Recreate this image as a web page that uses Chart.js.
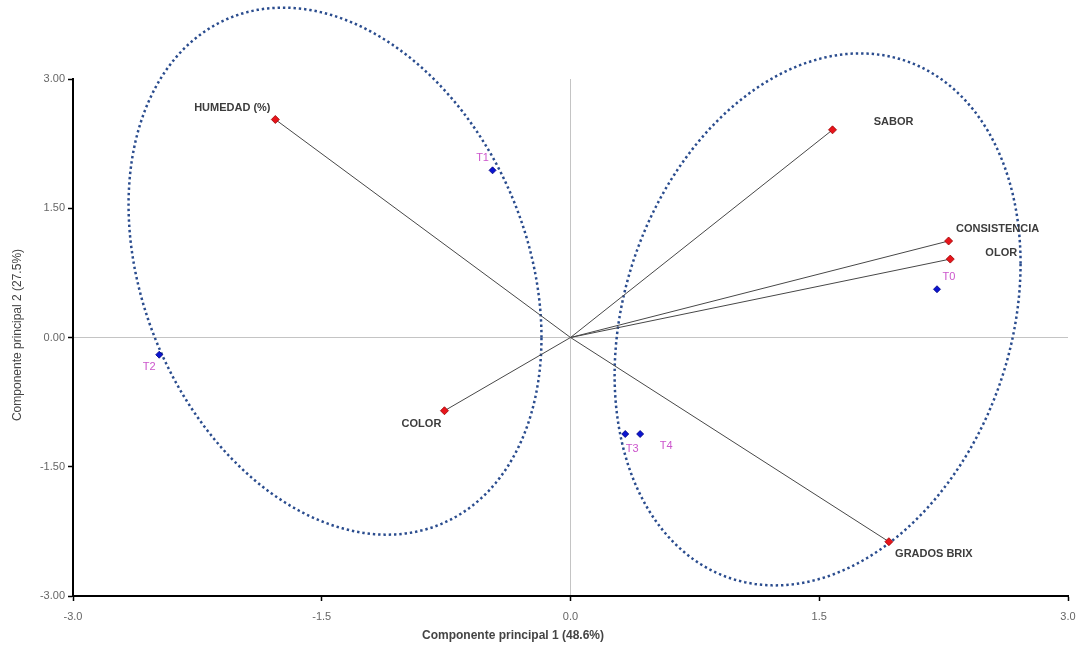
<!DOCTYPE html>
<html>
<head>
<meta charset="utf-8">
<script src="https://cdn.jsdelivr.net/npm/chart.js@4.4.1/dist/chart.umd.min.js"></script>
<style>
body{margin:0;background:#fff;}
</style>
</head>
<body>
<canvas id="pca" width="1079" height="647"></canvas>
<script>
// variables (red) and treatments (blue)
const variables = ["HUMEDAD (%)","SABOR","CONSISTENCIA","OLOR","COLOR","GRADOS BRIX"];
const varX = [-1.78, 1.58, 2.28, 2.29, -0.76, 1.92];
const varY = [2.53, 2.41, 1.12, 0.91, -0.85, -2.37];

const treatments = ["T0","T1","T2","T3","T4"];
const trtX = [2.21, -0.47, -2.48, 0.33, 0.42];
const trtY = [0.56, 1.94, -0.20, -1.12, -1.12];

const xTicks = [-3, -1.5, 0, 1.5, 3];
const yTicks = [-3, -1.5, 0, 1.5, 3];

// group ellipses: centre, spread, correlation
const grpCx = [-1.42, 1.49];
const grpCy = [0.77, 0.21];
const grpSx = [1.245, 1.224];
const grpSy = [3.058, 3.087];
const grpR = [-0.252, 0.21];


const ellipsePlugin = {
id:"ellipses",
beforeDatasetsDraw(chart){
const {ctx, scales:{x, y}} = chart;
ctx.save();
ctx.strokeStyle = "#2a4c8e";
ctx.lineWidth = 2.5;
ctx.setLineDash([2.4, 2.9]);
for(let g=0; g<grpCx.length; g++){
const l21 = grpR[g]*grpSy[g];
const l22 = grpSy[g]*Math.sqrt(1-grpR[g]*grpR[g]);
ctx.beginPath();
for(let k=0; k<=360; k++){
const t = k*Math.PI/180;
const vx = grpCx[g] + grpSx[g]*Math.cos(t);
const vy = grpCy[g] + l21*Math.cos(t) + l22*Math.sin(t);
const px = x.getPixelForValue(vx), py = y.getPixelForValue(vy);
if(k===0) ctx.moveTo(px,py); else ctx.lineTo(px,py);
}
ctx.stroke();
}
ctx.restore();
}
};


const labelPlugin = {
id:"pointLabels",
afterDatasetsDraw(chart, args, opts){
const {ctx, scales:{x, y}} = chart;
ctx.save();
ctx.textAlign = "center";
ctx.textBaseline = "middle";
ctx.font = "bold 11px 'Liberation Sans', Arial, sans-serif";
ctx.fillStyle = "#3c3c3c";
variables.forEach((name,i)=>{
const o = opts.varOffsets[i];
ctx.fillText(name, x.getPixelForValue(varX[i])+o[0], y.getPixelForValue(varY[i])+o[1]);
});
ctx.font = "11px 'Liberation Sans', Arial, sans-serif";
ctx.fillStyle = "#cc55cc";
treatments.forEach((name,i)=>{
const o = opts.trtOffsets[i];
ctx.fillText(name, x.getPixelForValue(trtX[i])+o[0], y.getPixelForValue(trtY[i])+o[1]);
});
ctx.restore();
}
};


const titlePlugin = {
id:"axisTitles",
afterDraw(chart){
const ctx = chart.ctx;
ctx.save();
ctx.textAlign = "center";
ctx.textBaseline = "middle";
ctx.fillStyle = "#444";
ctx.font = "bold 12px 'Liberation Sans Narrow', 'Liberation Sans', Arial";
ctx.fillText("Componente principal 1 (48.6%)", 513, 636);
ctx.translate(18, 335);
ctx.rotate(-Math.PI/2);
ctx.font = "12px 'Liberation Sans', Arial";
ctx.fillText("Componente principal 2 (27.5%)", 0, 0);
ctx.restore();
}
};


const datasets = variables.map((name,i)=>({
label:name,
data:[{x:0,y:0},{x:varX[i],y:varY[i]}],
showLine:true,
borderColor:"#474747",
borderWidth:1,
pointRadius:[0,4],
pointStyle:"rectRot",
pointBackgroundColor:"#e8141b",
pointBorderColor:"#9a0000",
pointBorderWidth:0.8
}));

datasets.push({
label:"Tratamientos",
data:trtX.map((v,i)=>({x:v,y:trtY[i]})),
showLine:false,
pointRadius:3.5,
pointStyle:"rectRot",
pointBackgroundColor:"#0a14d0",
pointBorderColor:"#000080",
pointBorderWidth:0.8
});


function zeroLine(c){
return (c.tick && c.tick.value===0) ? "#c4c4c4" : "rgba(0,0,0,0)";
}


new Chart(document.getElementById("pca"),{
type:"scatter",
data:{datasets:datasets},
plugins:[ellipsePlugin,labelPlugin,titlePlugin],
options:{
responsive:false,
animation:false,
layout:{padding:{top:79,right:11,left:0,bottom:0}},
plugins:{
legend:{display:false},
tooltip:{enabled:false},
pointLabels:{
varOffsets:[[-43,-12],[61,-8],[49,-12],[51,-6],[-23,13],[45,12]],
trtOffsets:[[12,-12],[-10,-12],[-10,12],[7,15],[26,12]]
}
},
scales:{
x:{
type:"linear",
min:-3,
max:3,
afterBuildTicks:s=>{s.ticks = xTicks.map(v=>({value:v}));},
afterFit:s=>{s.height = 51; s.paddingLeft = 0; s.paddingRight = 0;},
ticks:{
callback:v=>Number(v).toFixed(1),
color:"#666",
padding:9,
font:{family:"'Liberation Sans Narrow', 'Liberation Sans'",size:11}
},
grid:{color:zeroLine,lineWidth:1,tickColor:"#000",tickLength:5,tickWidth:1.5},
border:{display:true,color:"#000",width:2}
},
y:{
type:"linear",
min:-3,
max:3,
afterBuildTicks:s=>{s.ticks = yTicks.map(v=>({value:v}));},
afterFit:s=>{s.width = 73; s.paddingTop = 0; s.paddingBottom = 0;},
ticks:{
callback:v=>Number(v).toFixed(2),
color:"#666",
padding:3,
font:{family:"'Liberation Sans', Arial",size:11}
},
grid:{color:zeroLine,lineWidth:1,tickColor:"#000",tickLength:5,tickWidth:1.5},
border:{display:true,color:"#000",width:2}
}
}
}
});
</script>
</body>
</html>
